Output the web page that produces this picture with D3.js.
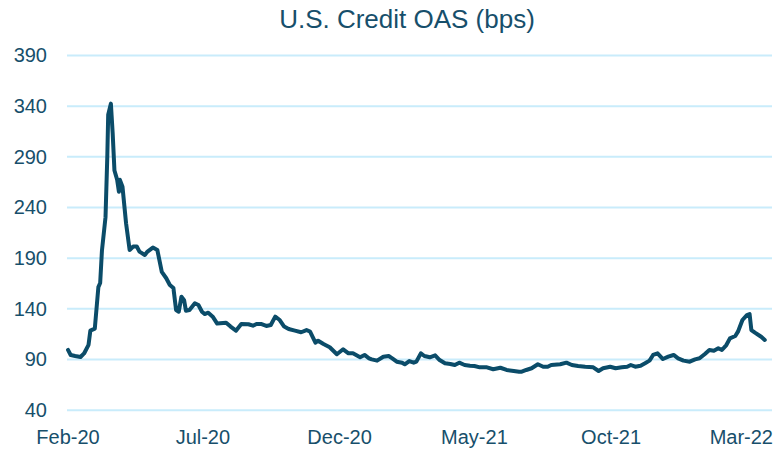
<!DOCTYPE html>
<html>
<head>
<meta charset="utf-8">
<script src="https://cdn.jsdelivr.net/npm/d3@7"></script>
<style>
  body { margin: 0; background: #fff; }
  text { font-family: "Liberation Sans", Arial, sans-serif; fill: #174f6b; }
</style>
</head>
<body>
<div id="chart"></div>
<script>
// U.S. Credit OAS
const dates = [
  "2020-02-01","2020-02-04","2020-02-09","2020-02-15","2020-02-19","2020-02-24","2020-02-26",
  "2020-03-02","2020-03-06","2020-03-08","2020-03-10","2020-03-14","2020-03-16","2020-03-17",
  "2020-03-20","2020-03-22","2020-03-24","2020-03-27","2020-03-29","2020-03-30","2020-04-02",
  "2020-04-06","2020-04-10","2020-04-14","2020-04-18","2020-04-21","2020-04-27","2020-04-30",
  "2020-05-06","2020-05-11","2020-05-16","2020-05-21","2020-05-25","2020-05-29","2020-06-01",
  "2020-06-04","2020-06-07","2020-06-10","2020-06-12","2020-06-16","2020-06-22","2020-06-26",
  "2020-06-30","2020-07-03","2020-07-07","2020-07-12","2020-07-17","2020-07-27","2020-08-01",
  "2020-08-07","2020-08-13","2020-08-21","2020-08-26","2020-08-30","2020-09-04","2020-09-10",
  "2020-09-15","2020-09-20","2020-09-25","2020-09-30","2020-10-05","2020-10-12","2020-10-19",
  "2020-10-25","2020-10-29","2020-11-04","2020-11-07","2020-11-13","2020-11-20","2020-11-28",
  "2020-12-05","2020-12-11","2020-12-16","2020-12-24","2020-12-29","2021-01-03","2021-01-06",
  "2021-01-12","2021-01-19","2021-01-25","2021-01-29","2021-02-03","2021-02-09","2021-02-12",
  "2021-02-17","2021-02-22","2021-02-25","2021-03-02","2021-03-06","2021-03-12","2021-03-18",
  "2021-03-23","2021-03-29","2021-04-04","2021-04-09","2021-04-14","2021-04-20","2021-04-26",
  "2021-05-01","2021-05-07","2021-05-15","2021-05-22","2021-05-30","2021-06-06","2021-06-14",
  "2021-06-20","2021-06-23","2021-06-28","2021-07-04","2021-07-11","2021-07-17","2021-07-22",
  "2021-07-26","2021-08-05","2021-08-12","2021-08-18","2021-08-25","2021-09-02","2021-09-11",
  "2021-09-17","2021-09-22","2021-09-30","2021-10-06","2021-10-13","2021-10-19","2021-10-23",
  "2021-10-28","2021-11-03","2021-11-08","2021-11-13","2021-11-17","2021-11-22","2021-11-28",
  "2021-12-04","2021-12-10","2021-12-15","2021-12-21","2021-12-28","2022-01-03","2022-01-08",
  "2022-01-14","2022-01-19","2022-01-24","2022-01-29","2022-02-02","2022-02-07","2022-02-11",
  "2022-02-17","2022-02-20","2022-02-25","2022-03-02","2022-03-05","2022-03-07","2022-03-11",
  "2022-03-15","2022-03-18","2022-03-22"
];
const oas = [
  99, 94, 93, 92, 95.5, 104, 118,
  120, 161, 165, 197, 230, 290, 331,
  342, 313, 276, 267, 255, 267, 260,
  224, 197.6, 201, 201, 196, 192.7, 196,
  200, 197.6, 176, 169.7, 163, 160, 138.4,
  136.7, 151.5, 148, 137.7, 138.4, 145, 143.3,
  136.7, 134.4, 135.7, 131.8, 125, 125.9, 122,
  118, 124.6, 124.3, 122.9, 124.6, 124.6, 122.6,
  123.6, 131.8, 128.5, 122, 119.6, 118, 116.4,
  118.6, 117, 106.1, 108.1, 104.8, 101.6, 94.7,
  99.6, 95.6, 95.6, 91.7, 94, 90.7, 89.7,
  88.4, 92.3, 93, 90.7, 87.4, 86.4, 84.8,
  88, 86.4, 87.4, 95.6, 93, 91.7, 93.6,
  89, 85.8, 85.1, 84.1, 86.4, 84.1, 83.4,
  83.1, 81.8, 81.8, 79.9, 81.4, 79.2, 78.2,
  77.5, 77.5, 79.2, 80.9, 84.8, 82.4, 82.4,
  84.1, 84.8, 86.4, 84.1, 83.1, 82.4, 81.8,
  78.2, 80.9, 82.4, 80.9, 81.8, 82.4, 84.1,
  82.4, 83.4, 85.8, 88.4, 94, 95.6, 90,
  92.3, 94, 90.7, 88.4, 87.4, 89.7, 90.7,
  95, 98.9, 98.2, 100.6, 98.9, 103.8, 110.4,
  112.7, 117, 128.5, 133.4, 134.4, 118.6, 116,
  113.7, 112, 108.8
];
const yTicks = [40, 90, 140, 190, 240, 290, 340, 390];
const xTickDates = ["2020-02-01","2020-07-01","2020-12-01","2021-05-01","2021-10-01","2022-03-01"];
const title = "U.S. Credit OAS (bps)";

const width = 776, height = 450;
const parse = d3.timeParse("%Y-%m-%d");
const data = dates.map((d, i) => ({ date: parse(d), value: oas[i] }));

const svg = d3.select("#chart").append("svg")
  .attr("width", width)
  .attr("height", height);

const x = d3.scaleTime()
  .domain([parse("2020-02-01"), parse("2022-03-01")])
  .range([68, 746]);

const y = d3.scaleLinear()
  .domain([40, 390])
  .range([409.7, 55]);

// gridlines
svg.append("g")
  .attr("transform", "translate(67,0)")
  .call(d3.axisLeft(y).tickValues(yTicks).tickSize(-705).tickFormat(""))
  .call(g => g.select(".domain").remove())
  .call(g => g.selectAll("line").attr("stroke", "#c9ecfb").attr("stroke-width", 2));

// y labels
svg.append("g")
  .selectAll("text")
  .data(yTicks)
  .enter()
  .append("text")
    .attr("x", 47)
    .attr("y", d => y(d))
    .attr("dy", "0.36em")
    .attr("text-anchor", "end")
    .attr("font-size", 20)
    .text(d => d);

// x labels (last one kept inside the right edge)
const xLabels = svg.append("g")
  .selectAll("text")
  .data(xTickDates.map(parse))
  .enter()
  .append("text")
    .attr("y", 444)
    .attr("font-size", 20)
    .text(d3.timeFormat("%b-%y"));

xLabels.each(function(d) {
  const w = this.getComputedTextLength();
  const left = Math.min(x(d) - w / 2, width - 3 - w);
  d3.select(this).attr("x", left);
});

svg.append("text")
  .attr("x", 407)
  .attr("y", 28)
  .attr("text-anchor", "middle")
  .attr("font-size", 26)
  .text(title);

const line = d3.line()
  .x(d => x(d.date))
  .y(d => y(d.value));

svg.append("path")
  .datum(data)
  .attr("fill", "none")
  .attr("stroke", "#0b4c69")
  .attr("stroke-width", 4)
  .attr("stroke-linejoin", "round")
  .attr("stroke-linecap", "round")
  .attr("d", line);
</script>
</body>
</html>
